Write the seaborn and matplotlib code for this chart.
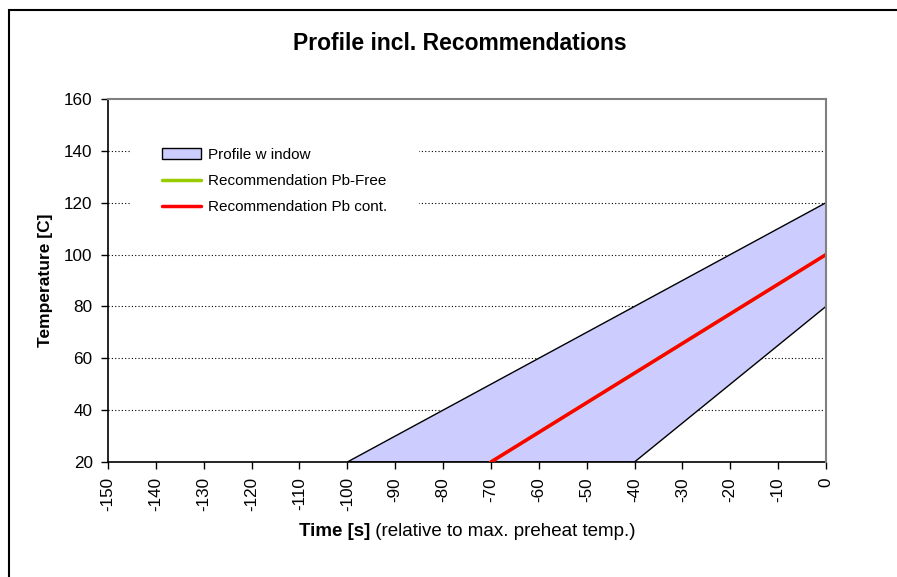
import matplotlib
matplotlib.use("Agg")
import matplotlib.pyplot as plt
import seaborn as sns
import pandas as pd
from matplotlib.patches import Patch, Rectangle
from matplotlib.lines import Line2D

# profile window corners (time s, temp C)
window_time = [-100, 0, 0, -40]
window_temp = [20, 120, 80, 20]

# recommendations
pbfree_time = [-70, 0]
pbfree_temp = [20, 100]
pbcont_time = [-70, 0]
pbcont_temp = [20, 100]

x_ticks = list(range(-150, 1, 10))
y_ticks = list(range(20, 161, 20))

sns.set_style("white")
plt.rcParams['font.family'] = ['Liberation Sans', 'DejaVu Sans']
plt.rcParams['text.color'] = 'black'
plt.rcParams['axes.labelcolor'] = 'black'

fig = plt.figure(figsize=(8.97, 5.77), dpi=100)
ax = fig.add_axes([0.1204, 0.1993, 0.8004, 0.6291])

# outer chart border (left + top visible)
fig.add_artist(Rectangle((9/897, -0.2), 1.5, 1.2 - 10/577, transform=fig.transFigure,
                         fill=False, edgecolor='black', linewidth=1.5))

ax.fill(window_time, window_temp, facecolor='#CCCCFF', edgecolor='black', linewidth=1, zorder=2)

df_free = pd.DataFrame({'t': pbfree_time, 'T': pbfree_temp})
df_cont = pd.DataFrame({'t': pbcont_time, 'T': pbcont_temp})
sns.lineplot(data=df_free, x='t', y='T', ax=ax, color='#99CC00', linewidth=2.5, zorder=3)
sns.lineplot(data=df_cont, x='t', y='T', ax=ax, color='#FF0000', linewidth=2.5, zorder=4)

ax.set_xlim(-150, 0)
ax.set_ylim(20, 160)
ax.set_xticks(x_ticks)
ax.set_yticks(y_ticks)
ax.set_xticklabels([str(v) for v in x_ticks], rotation=90)
ax.tick_params(axis='both', labelsize=12.3, direction='out', length=5, width=1,
               pad=6, colors='black', bottom=True, left=True)

for yv in y_ticks[1:-1]:
    ax.axhline(yv, color='black', linestyle=(0, (1, 2)), linewidth=0.8, zorder=1)

for side in ['left', 'bottom']:
    ax.spines[side].set_color('black')
    ax.spines[side].set_linewidth(1.2)
for side in ['top', 'right']:
    ax.spines[side].set_color('#808080')
    ax.spines[side].set_linewidth(1.5)
ax.spines['right'].set_zorder(5)

ax.set_xlabel('')
ax.set_ylabel('Temperature [C]', fontsize=12.5, fontweight='bold', labelpad=8, color='black')

fig.text(460/897, 1 - 43/577, 'Profile incl. Recommendations', ha='center', va='center',
         fontsize=16.5, fontweight='bold', color='black')

t1 = fig.text(299/897, 1 - 531/577, 'Time [s]', ha='left', va='center',
              fontsize=13.5, fontweight='bold', color='black')
ax.annotate(' (relative to max. preheat temp.)', xy=(1, 0), xycoords=t1,
            ha='left', va='bottom', fontsize=13.5, color='black')

handles = [Patch(facecolor='#CCCCFF', edgecolor='black', linewidth=1),
           Line2D([], [], color='#99CC00', linewidth=2.5),
           Line2D([], [], color='#FF0000', linewidth=2.5)]
labels = ['Profile w indow', 'Recommendation Pb-Free', 'Recommendation Pb cont.']
leg = ax.legend(handles, labels, loc='upper left', bbox_to_anchor=(0.031, 0.954),
                frameon=True, facecolor='white', edgecolor='none', framealpha=1,
                fontsize=11, handlelength=2.5, handleheight=0.7, handletextpad=0.46,
                labelspacing=0.8, borderpad=2.1, borderaxespad=0, fancybox=False,
                labelcolor='black')
leg.set_zorder(6)

fig.savefig('out.png', dpi=100)
